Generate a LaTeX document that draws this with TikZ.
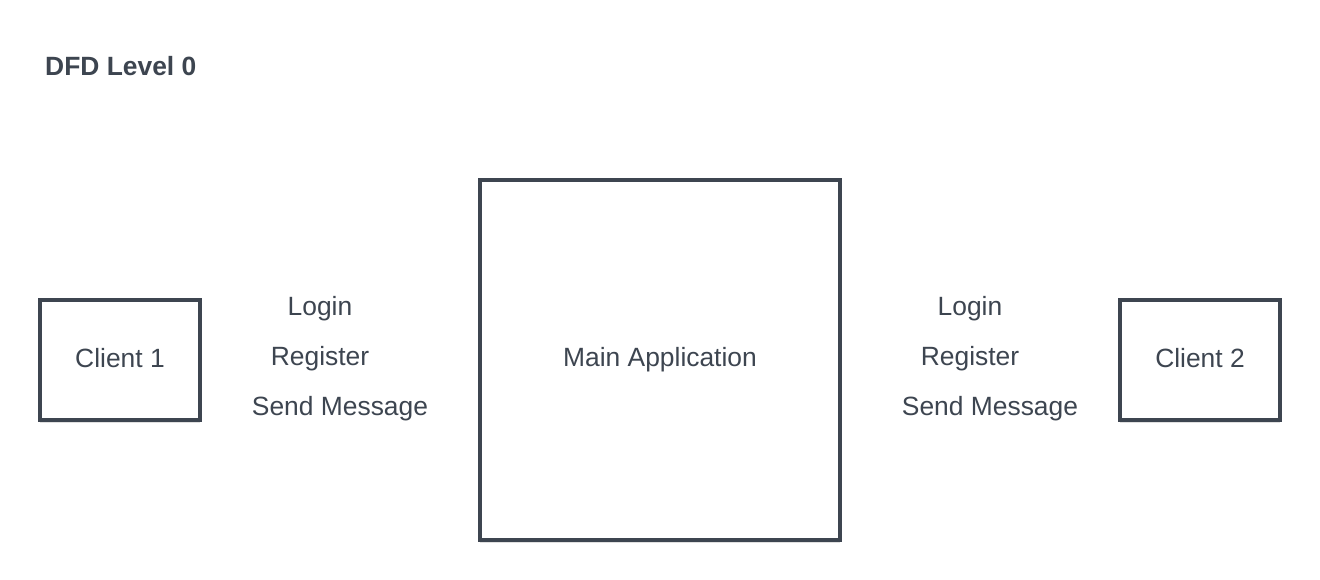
\documentclass[tikz,border=0pt]{standalone}
\usepackage{fontspec}
\setmainfont{Liberation Sans}
\usetikzlibrary{shadows}
\definecolor{ink}{HTML}{3D4550}
\tikzset{
  x=1pt, y=-1pt,
  txt/.style={font=\fontsize{26.4}{30}\selectfont},
  entity/.style={draw=ink, line width=3.6pt, fill=white, inner sep=0pt, txt, text=ink,
    drop shadow={shadow xshift=0pt, shadow yshift=-3pt, opacity=0.12, fill=black}},
  flow/.style={text=ink, txt, inner sep=0pt},
  title/.style={text=ink, font=\bfseries\fontsize{26.4}{30}\selectfont, inner sep=0pt, anchor=west}
}
\begin{document}
\begin{tikzpicture}
\useasboundingbox (0,0) rectangle (1320,580);
\fill[white] (0,0) rectangle (1320,580);
\node[title] (t) at (45,66) {DFD Level 0};
\node[entity, minimum width=160pt, minimum height=120pt] (c1) at (120,360) {\raisebox{5pt}{Client 1}};
\node[entity, minimum width=360pt, minimum height=360pt] (app) at (660,360) {\raisebox{4pt}{Main Application}};
\node[entity, minimum width=160pt, minimum height=120pt] (c2) at (1200,360) {\raisebox{5pt}{Client 2}};
\node[flow] (l1) at (320,309) {Login};
\node[flow] (r1) at (320,359) {Register};
\node[flow] (s1) at (340,409) {Send Message};
\node[flow] (l2) at (970,309) {Login};
\node[flow] (r2) at (970,359) {Register};
\node[flow] (s2) at (990,409) {Send Message};
\end{tikzpicture}
\end{document}
